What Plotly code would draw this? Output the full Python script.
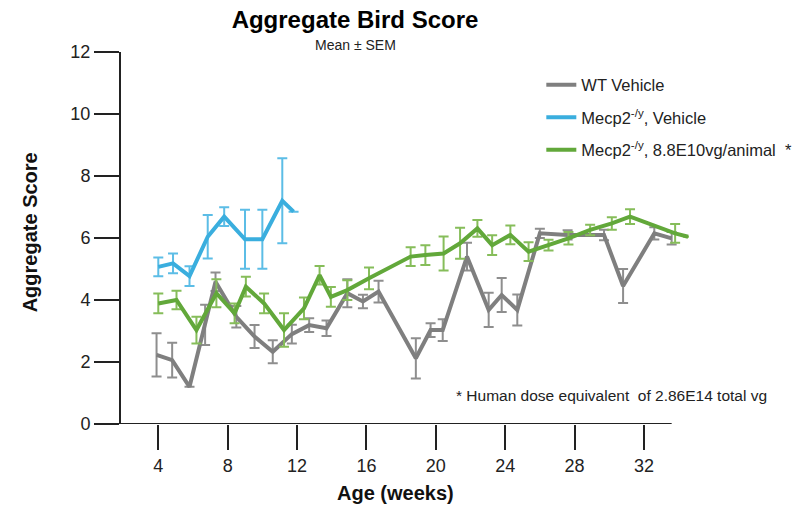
"""
Aggregate bird score over age, mean ± SEM for three groups.
"""

import plotly.graph_objects as go

# WT vehicle (grey)
wt_weeks = [3.9, 4.8, 5.8, 6.7, 7.3, 8.5, 9.55, 10.6, 11.7, 12.7, 13.7, 14.9, 15.8, 16.7,
            18.85, 19.7, 20.4, 21.8, 23.05, 23.8, 24.7, 26.0, 27.6, 29.7, 30.8, 32.6, 33.6]
wt_mean = [2.23, 2.06, 1.2, 3.2, 4.59, 3.46, 2.82, 2.33, 2.9, 3.19, 3.09, 4.22, 3.95, 4.27,
           2.12, 3.03, 3.03, 5.4, 3.68, 4.16, 3.68, 6.15, 6.1, 6.1, 4.45, 6.15, 5.99]
wt_sem = [0.7, 0.56, 0, 0.65, 0.3, 0.35, 0.37, 0.37, 0.3, 0.22, 0.25, 0.45, 0.22, 0.35,
          0.65, 0.22, 0.35, 0.45, 0.55, 0.55, 0.5, 0.15, 0.15, 0.17, 0.55, 0.2, 0.2]

# Mecp2 -/y vehicle (blue)
ko_weeks = [4.0, 4.85, 5.8, 6.85, 7.8, 9.0, 10.0, 11.15, 11.8]
ko_mean = [5.07, 5.18, 4.77, 6.04, 6.69, 5.96, 5.96, 7.2, 6.85]
ko_sem = [0.3, 0.32, 0.32, 0.7, 0.3, 0.95, 0.95, 1.37, 0]

# Mecp2 -/y treated, 8.8E10 vg/animal (green)
tx_weeks = [4.0, 5.05, 6.2, 7.35, 8.4, 9.05, 10.1, 11.25, 12.4, 13.3, 13.95, 14.9, 16.15, 18.55,
            19.4, 20.45, 21.4, 22.4, 23.25, 24.3, 25.35, 26.5, 27.65, 28.9, 30.15, 31.2, 33.8, 34.55]
tx_mean = [3.89, 4.0, 3.03, 4.22, 3.57, 4.43, 3.89, 3.03, 3.73, 4.8, 4.1, 4.32, 4.7, 5.4,
           5.45, 5.5, 5.83, 6.31, 5.77, 6.1, 5.56, 5.77, 5.99, 6.26, 6.47, 6.69, 6.15, 6.04]
tx_sem = [0.32, 0.3, 0.43, 0.45, 0.32, 0.32, 0.32, 0.54, 0.35, 0.3, 0.32, 0.32, 0.35, 0.3,
          0.32, 0.55, 0.5, 0.27, 0.32, 0.3, 0.3, 0.17, 0.2, 0.17, 0.2, 0.24, 0.3, 0]

x_ticks = [4, 8, 12, 16, 20, 24, 28, 32]
y_ticks = [0, 2, 4, 6, 8, 10, 12]

FONT = "Arial, Liberation Sans, sans-serif"
OFF = 8  # page body margin offset

series = [
    ("WT Vehicle", wt_weeks, wt_mean, wt_sem, "#7f7f7f", "#8e8e8e"),
    ("Mecp2<sup>-/y</sup>, Vehicle", ko_weeks, ko_mean, ko_sem, "#3aaede", "#5cbde6"),
    ("Mecp2<sup>-/y</sup>, 8.8E10vg/animal  *", tx_weeks, tx_mean, tx_sem, "#62a83a", "#86bd5a"),
]

fig = go.Figure()
for i, (name, x, y, sem, color, err_color) in enumerate(series):
    fig.add_trace(
        go.Scatter(
            x=x,
            y=y,
            name=name,
            mode="lines",
            line=dict(color=color, width=4),
            error_y=dict(type="data", array=sem, visible=True, color=err_color,
                         thickness=2, width=5),
            legendgroup=f"g{i}",
        )
    )

fig.update_layout(
    width=801,
    height=510,
    margin=dict(l=121 - OFF, r=110 + OFF, t=52 - OFF, b=86 + OFF),
    plot_bgcolor="white",
    paper_bgcolor="white",
    font=dict(family=FONT, color="#111111"),
    title=dict(
        text="<b>Aggregate Bird Score</b>",
        font=dict(size=24, color="#000000"),
        x=(355 - OFF) / 801,
        xanchor="center",
        y=1 - (20 - OFF) / 510,
        yanchor="middle",
    ),
    showlegend=True,
    legend=dict(
        x=0.74,
        y=0.958,
        xanchor="left",
        yanchor="top",
        font=dict(size=16.5, color="#222222"),
        tracegroupgap=8,
        bgcolor="rgba(0,0,0,0)",
    ),
    xaxis=dict(
        range=[1.85, 34.6],
        tickvals=x_ticks,
        ticks="outside",
        ticklen=25,
        tickwidth=2,
        tickcolor="#222222",
        showline=False,
        showgrid=False,
        zeroline=False,
        tickfont=dict(size=18, color="#222222"),
    ),
    yaxis=dict(
        range=[0, 12],
        tickvals=y_ticks,
        ticks="outside",
        ticklen=25,
        tickwidth=2,
        tickcolor="#222222",
        showline=True,
        linecolor="#222222",
        linewidth=2,
        showgrid=False,
        zeroline=False,
        tickfont=dict(size=18, color="#222222"),
    ),
)

# x axis baseline stops short of the right end of the plotted data
fig.add_shape(type="line", xref="x", yref="y", x0=1.85, x1=33.6, y0=0, y1=0,
              line=dict(color="#222222", width=2))

fig.add_annotation(text="<b>Age (weeks)</b>", xref="paper", yref="paper",
                   x=(396 - 121) / 570, y=-(493 - 424) / 372, xanchor="center", yanchor="middle",
                   showarrow=False, font=dict(size=20, color="#111111"))
fig.add_annotation(text="<b>Aggregate Score</b>", xref="paper", yref="paper", textangle=-90,
                   x=(30 - 121) / 570, y=(424 - 232) / 372, xanchor="center", yanchor="middle",
                   showarrow=False, font=dict(size=20, color="#111111"))
fig.add_annotation(text="Mean ± SEM", xref="paper", yref="paper", x=(356 - 121) / 570,
                   y=1 + 7 / 372, xanchor="center", yanchor="middle", showarrow=False,
                   font=dict(size=14, color="#222222"))
fig.add_annotation(text="* Human dose equivalent  of 2.86E14 total vg", xref="paper", yref="paper",
                   x=(455 - 121) / 570, y=(424 - 395) / 372, xanchor="left", yanchor="middle",
                   showarrow=False, font=dict(size=15.5, color="#222222"))

fig.write_html("out.html")
